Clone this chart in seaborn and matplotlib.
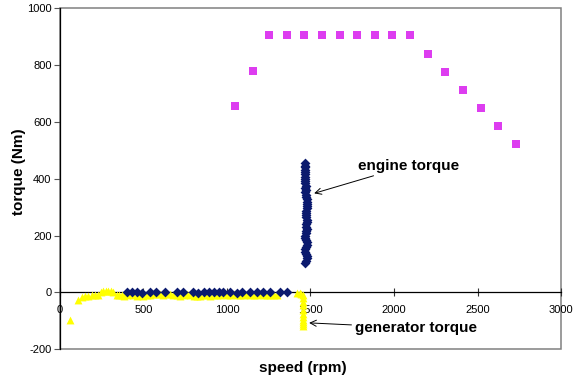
import matplotlib
matplotlib.use('Agg')
import matplotlib.pyplot as plt
import pandas as pd
import seaborn as sns
from matplotlib.patches import Rectangle

# maximum torque curve (pink squares)
max_speed = [1046, 1154, 1253, 1359, 1461, 1569, 1677, 1778, 1886, 1988,
             2096, 2204, 2305, 2413, 2521, 2623, 2731]
max_torque = [655, 781, 905, 905, 905, 905, 905, 905, 905, 905,
              905, 840, 775, 712, 648, 585, 522]

# engine torque (navy diamonds)
engine_speed = [399, 429, 463, 489, 539, 575, 629, 699, 739, 798, 828, 862,
                894, 922, 954, 978, 1018, 1058, 1088, 1138, 1178, 1218, 1257,
                1317, 1361,
                1466, 1467, 1465, 1468, 1466, 1467, 1469, 1466, 1468, 1470,
                1471, 1469, 1472, 1470, 1473, 1476, 1478, 1480, 1479, 1481,
                1478, 1476, 1472, 1471, 1474, 1477, 1479, 1476, 1474, 1478,
                1475, 1472, 1470, 1467, 1474, 1478, 1481, 1476, 1470, 1468,
                1475, 1480, 1477, 1472, 1469]
engine_torque = [0, 1, 0, -1, 0, 1, 0, 0, 1, 0, -1, 0,
                 1, 0, 0, 1, 0, -1, 0, 1, 0, 0, 1,
                 0, 0,
                 455, 447, 440, 432, 424, 416, 408, 400, 392, 384,
                 376, 368, 360, 352, 344, 336, 328, 320, 312, 304,
                 296, 288, 280, 272, 264, 256, 248, 240, 232, 224,
                 216, 208, 200, 192, 184, 176, 168, 160, 152, 144,
                 136, 128, 120, 112, 104]

# generator torque (yellow triangles)
gen_speed = [60, 110, 130, 150, 170, 190, 210, 230, 245, 260, 275, 290, 305,
             320, 340, 355, 370, 385, 400, 420, 440, 460, 480, 500, 520, 540,
             560, 580, 600, 620, 640, 660, 680, 700, 720, 740, 760, 780, 800,
             820, 840, 860, 880, 900, 920, 940, 960, 980, 1000, 1020, 1040,
             1060, 1080, 1100, 1120, 1140, 1160, 1180, 1200, 1220, 1240, 1260,
             1280, 1300, 1420, 1435, 1445, 1455, 1455, 1456, 1455, 1454, 1455,
             1456, 1455, 1454, 1455, 1456]
gen_torque = [-97, -25, -15, -12, -12, -10, -10, -10, 3, 4, 5, 4, 4,
              3, -8, -10, -8, -12, -10, -6, -10, -12, -8, -12, -10, -8,
              -6, -4, -6, -8, -4, -6, -10, -8, -12, -10, -6, -10, -14,
              -12, -14, -8, -10, -12, -8, -10, -8, -6, -8, -10, -6,
              -8, -10, -8, -6, -8, -10, -8, -6, -8, -10, -8,
              -10, -8, -3, -2, -5, -10, -20, -32, -45, -60, -74,
              -86, -96, -105, -112, -118]

sns.set_style('white')
plt.rcParams['font.family'] = ['Liberation Sans', 'DejaVu Sans']
plt.rcParams['text.color'] = 'black'
plt.rcParams['axes.labelcolor'] = 'black'
plt.rcParams['xtick.labelcolor'] = 'black'
plt.rcParams['ytick.labelcolor'] = 'black'
plt.rcParams['axes.unicode_minus'] = False

fig = plt.figure(figsize=(5.76, 3.83), dpi=100)
ax = fig.add_axes([0.104, 0.088, 0.870, 0.890])

gen = pd.DataFrame({'speed': gen_speed, 'torque': gen_torque})
eng = pd.DataFrame({'speed': engine_speed, 'torque': engine_torque})
mx = pd.DataFrame({'speed': max_speed, 'torque': max_torque})

sns.scatterplot(data=gen, x='speed', y='torque', marker='^', s=32,
                color='#FFFF00', linewidth=0, ax=ax, zorder=3)
sns.scatterplot(data=eng, x='speed', y='torque', marker='D', s=25,
                color='#0B1A6E', linewidth=0, ax=ax, zorder=4)
sns.scatterplot(data=mx, x='speed', y='torque', marker='s', s=26,
                color='#DD3DF0', linewidth=0, ax=ax, zorder=4)

ax.set_xlim(0, 3000)
ax.set_ylim(-200, 1000)
ax.set_xticks(range(0, 3001, 500))
ax.set_yticks(range(-200, 1001, 200))

for side in ['top', 'right']:
    ax.spines[side].set_visible(False)
ax.spines['left'].set_color('black')
ax.spines['left'].set_linewidth(0.9)
ax.spines['bottom'].set_position(('data', 0))
ax.spines['bottom'].set_color('black')
ax.spines['bottom'].set_linewidth(0.9)
ax.add_patch(Rectangle((0, 0), 1, 1, transform=ax.transAxes, fill=False,
                       edgecolor='#808080', linewidth=1.1, clip_on=False, zorder=0))

ax.tick_params(axis='y', direction='out', length=4, width=0.8, color='#555555',
               labelsize=8, pad=2, left=True)
ax.tick_params(axis='x', direction='inout', length=6, width=0.8, color='#333333',
               labelsize=8, pad=6, bottom=True)

ax.set_xlabel('speed (rpm)', fontsize=11, fontweight='bold')
ax.set_ylabel('torque (Nm)', fontsize=11, fontweight='bold')
ax.xaxis.set_label_coords(0.485, -0.035)
ax.yaxis.set_label_coords(-0.068, 0.52)

ax.annotate('engine torque', xy=(1522, 349), xytext=(1783, 447),
            fontsize=11, fontweight='bold', va='center', ha='left',
            arrowprops=dict(arrowstyle='->', color='black', lw=0.7,
                            shrinkA=0, shrinkB=0))
ax.annotate('generator torque', xy=(1492, -107), xytext=(1765, -125),
            fontsize=11, fontweight='bold', va='center', ha='left',
            arrowprops=dict(arrowstyle='->', color='black', lw=0.7,
                            shrinkA=0, shrinkB=0), annotation_clip=False)

if ax.get_legend():
    ax.get_legend().remove()

fig.savefig('out.png', dpi=100)
